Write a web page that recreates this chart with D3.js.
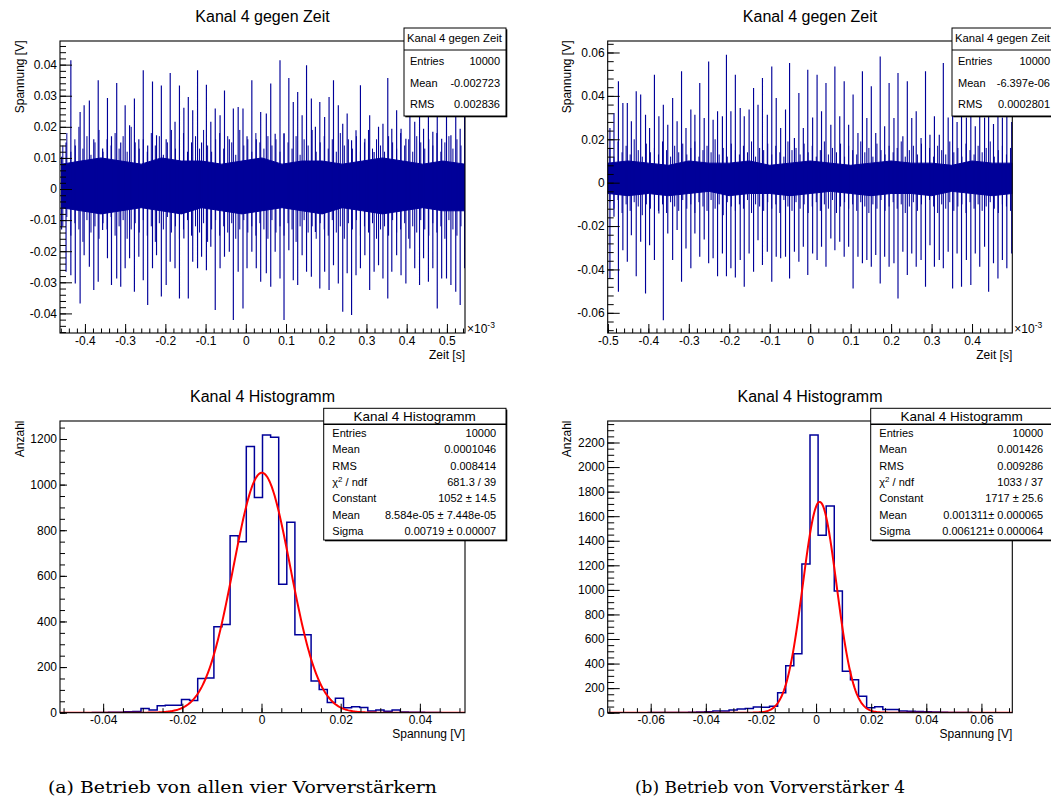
<!DOCTYPE html>
<html><head><meta charset="utf-8">
<script src="https://cdn.jsdelivr.net/npm/d3@7"></script>
<style>
body{margin:0;background:#fff}
svg{display:block}
</style>
</head><body>
<svg id="c" width="1051" height="811"></svg>
<script>
// ---------------- DATA ----------------
// Panel (a) top: time series, spike events (time in 1e-3 s, voltage in V)
const tsA_time = [-0.458,-0.447,-0.435,-0.424,-0.412,-0.402,-0.389,-0.378,-0.367,-0.356,-0.344,-0.334,-0.321,-0.311,-0.300,-0.289,-0.277,-0.266,-0.255,-0.244,-0.232,-0.222,-0.210,-0.198,-0.188,-0.176,-0.165,-0.154,-0.143,-0.132,-0.120,-0.110,-0.098,-0.087,-0.076,-0.064,-0.053,-0.041,-0.031,-0.019,-0.007,0.003,0.015,0.026,0.037,0.051,0.062,0.073,0.085,0.095,0.107,0.118,0.129,0.140,0.151,0.163,0.173,0.184,0.196,0.207,0.218,0.230,0.241,0.252,0.263,0.274,0.285,0.296,0.308,0.319,0.330,0.341,0.353,0.363,0.375,0.386,0.398,0.408,0.420,0.432,0.442,0.454,0.465,0.476,0.487,0.499,0.510,0.522,0.533,0.544];
const tsA_up = [0.0104,0.015,0.0414,0.014,0.0248,0.0269,0.0285,0.016,0.0350,0.013,0.0293,0.017,0.0341,0.015,0.0269,0.0205,0.0291,0.016,0.0382,0.014,0.0346,0.0173,0.0333,0.016,0.0373,0.0216,0.0333,0.0261,0.0296,0.0253,0.0382,0.015,0.0335,0.0216,0.0259,0.0237,0.0317,0.016,0.0259,0.0264,0.0259,0.017,0.0350,0.016,0.0248,0.0243,0.0339,0.0178,0.0414,0.0178,0.0357,0.0280,0.0312,0.0237,0.0398,0.0291,0.0200,0.0280,0.0232,0.0296,0.0350,0.0269,0.0210,0.0243,0.0157,0.0189,0.0334,0.0162,0.0237,0.0119,0.0200,0.0210,0.0357,0.0194,0.0253,0.0194,0.0162,0.030,0.0216,0.028,0.0194,0.026,0.0184,0.030,0.0162,0.0248,0.0173,0.030,0.0194,0.025];
const tsA_down = [-0.0130,-0.0266,-0.0277,-0.0304,-0.0368,-0.0213,-0.0250,-0.0325,-0.0298,-0.0132,-0.0223,-0.0309,-0.0288,-0.0314,-0.0255,-0.0223,-0.0330,-0.0218,-0.0293,-0.0373,-0.0255,-0.0213,-0.0346,-0.0309,-0.0234,-0.0255,-0.0352,-0.0159,-0.0352,-0.0234,-0.0255,-0.0218,-0.0261,-0.0186,-0.0389,-0.0255,-0.0218,-0.0202,-0.0421,-0.0266,-0.0384,-0.0255,-0.0202,-0.0255,-0.0298,-0.0271,-0.0314,-0.0202,-0.0288,-0.0421,-0.0197,-0.0293,-0.0309,-0.0213,-0.0266,-0.0282,-0.0138,-0.0320,-0.0266,-0.0325,-0.0245,-0.0304,-0.0395,-0.0271,-0.0405,-0.0277,-0.0255,-0.0213,-0.0325,-0.0266,-0.0245,-0.0288,-0.0352,-0.0266,-0.0213,-0.0277,-0.0304,-0.0191,-0.0255,-0.0309,-0.0223,-0.0298,-0.0255,-0.0384,-0.0288,-0.0288,-0.0309,-0.0330,-0.0373,-0.0255];
// dense noise of panel (a) top: smaller oscillations sampled every 0.01e-3 s
const tsA_midTime = [-0.455,-0.445,-0.435,-0.425,-0.415,-0.405,-0.395,-0.385,-0.375,-0.365,-0.355,-0.345,-0.335,-0.325,-0.315,-0.305,-0.295,-0.285,-0.275,-0.265,-0.255,-0.245,-0.235,-0.225,-0.215,-0.205,-0.195,-0.185,-0.175,-0.165,-0.155,-0.145,-0.135,-0.125,-0.115,-0.105,-0.095,-0.085,-0.075,-0.065,-0.055,-0.045,-0.035,-0.025,-0.015,-0.005,0.005,0.015,0.025,0.035,0.045,0.055,0.065,0.075,0.085,0.095,0.105,0.115,0.125,0.135,0.145,0.155,0.165,0.175,0.185,0.195,0.205,0.215,0.225,0.235,0.245,0.255,0.265,0.275,0.285,0.295,0.305,0.315,0.325,0.335,0.345,0.355,0.365,0.375,0.385,0.395,0.405,0.415,0.425,0.435,0.445,0.455,0.465,0.475,0.485,0.495,0.505,0.515,0.525,0.535];
const tsA_midHi = [0.014,0.018,0.012,0.016,0.020,0.013,0.017,0.011,0.015,0.019,0.012,0.016,0.014,0.018,0.013,0.017,0.012,0.020,0.015,0.013,0.016,0.012,0.018,0.014,0.017,0.011,0.015,0.019,0.013,0.016,0.018,0.012,0.015,0.017,0.013,0.019,0.014,0.012,0.016,0.018,0.013,0.017,0.015,0.011,0.019,0.014,0.016,0.012,0.018,0.015,0.013,0.017,0.014,0.016,0.012,0.018,0.015,0.013,0.017,0.011,0.016,0.014,0.019,0.012,0.015,0.017,0.013,0.016,0.012,0.018,0.014,0.016,0.013,0.017,0.012,0.015,0.019,0.013,0.016,0.014,0.012,0.017,0.015,0.013,0.018,0.014,0.016,0.012,0.017,0.015,0.013,0.016,0.014,0.018,0.012,0.015,0.017,0.013,0.016,0.014];
const tsA_midLo = [-0.012,-0.009,-0.015,-0.011,-0.013,-0.017,-0.010,-0.014,-0.012,-0.016,-0.011,-0.013,-0.009,-0.015,-0.012,-0.010,-0.016,-0.013,-0.011,-0.014,-0.010,-0.015,-0.012,-0.017,-0.011,-0.013,-0.009,-0.014,-0.012,-0.016,-0.013,-0.010,-0.015,-0.012,-0.014,-0.011,-0.017,-0.013,-0.010,-0.015,-0.012,-0.014,-0.011,-0.016,-0.013,-0.010,-0.014,-0.012,-0.015,-0.011,-0.013,-0.016,-0.010,-0.014,-0.012,-0.015,-0.011,-0.013,-0.017,-0.012,-0.010,-0.014,-0.012,-0.016,-0.011,-0.013,-0.015,-0.010,-0.014,-0.012,-0.016,-0.011,-0.013,-0.010,-0.015,-0.012,-0.014,-0.011,-0.016,-0.013,-0.012,-0.015,-0.010,-0.014,-0.013,-0.011,-0.016,-0.012,-0.014,-0.010,-0.013,-0.015,-0.011,-0.014,-0.012,-0.016,-0.010,-0.013,-0.015,-0.012];
// solid central band of panel (a) top
const tsA_coreTime = [-0.458,-0.41,-0.36,-0.31,-0.26,-0.21,-0.16,-0.11,-0.06,-0.01,0.04,0.09,0.14,0.19,0.24,0.29,0.34,0.39,0.44,0.49,0.545];
const tsA_coreHi = [0.008,0.009,0.010,0.009,0.008,0.010,0.009,0.009,0.008,0.009,0.010,0.008,0.009,0.009,0.008,0.009,0.010,0.009,0.008,0.009,0.008];
const tsA_coreLo = [-0.006,-0.007,-0.008,-0.007,-0.006,-0.007,-0.008,-0.006,-0.007,-0.008,-0.007,-0.006,-0.007,-0.008,-0.006,-0.007,-0.008,-0.007,-0.006,-0.007,-0.007];

// Panel (b) top
const tsB_time = [-0.495,-0.485,-0.474,-0.463,-0.452,-0.442,-0.430,-0.419,-0.407,-0.397,-0.385,-0.374,-0.363,-0.352,-0.340,-0.329,-0.318,-0.307,-0.295,-0.285,-0.273,-0.262,-0.251,-0.240,-0.229,-0.217,-0.207,-0.196,-0.185,-0.173,-0.163,-0.151,-0.140,-0.129,-0.118,-0.106,-0.095,-0.084,-0.073,-0.061,-0.051,-0.039,-0.028,-0.017,-0.006,0.006,0.017,0.028,0.039,0.051,0.061,0.073,0.084,0.095,0.106,0.118,0.129,0.140,0.151,0.162,0.173,0.184,0.195,0.207,0.217,0.229,0.240,0.251,0.262,0.274,0.285,0.296,0.307,0.319,0.329,0.341,0.352,0.363,0.374,0.386,0.397,0.408,0.419,0.431,0.441,0.453,0.464,0.475,0.486,0.498];
const tsB_up = [0.0252,0.0321,0.0467,0.0367,0.0367,0.0283,0.0421,0.0406,0.0313,0.0252,0.0498,0.0306,0.0359,0.0267,0.0390,0.0283,0.0513,0.0252,0.0337,0.0313,0.0459,0.0298,0.0559,0.0290,0.0329,0.0306,0.0590,0.0329,0.0498,0.0344,0.0306,0.0337,0.0436,0.0359,0.0482,0.0313,0.0536,0.0390,0.0252,0.0337,0.0552,0.0206,0.0413,0.0252,0.0521,0.030,0.0498,0.0329,0.0459,0.0267,0.0536,0.0306,0.0467,0.0267,0.0406,0.0229,0.0513,0.0298,0.0444,0.0229,0.0582,0.0260,0.0459,0.0298,0.0506,0.0214,0.0467,0.0298,0.0329,0.0206,0.0513,0.0221,0.0306,0.0221,0.0552,0.030,0.048,0.028,0.045,0.030,0.050,0.026,0.047,0.030,0.052,0.027,0.050,0.030,0.048,0.028];
const tsB_down = [-0.0442,-0.0157,-0.0503,-0.0311,-0.0365,-0.0242,-0.0431,-0.0272,-0.0511,-0.0288,-0.0357,-0.0142,-0.0634,-0.0234,-0.0357,-0.0218,-0.0457,-0.0303,-0.0395,-0.0234,-0.0342,-0.0262,-0.0372,-0.0349,-0.0431,-0.0326,-0.0431,-0.0395,-0.0437,-0.0357,-0.0480,-0.0326,-0.0411,-0.0265,-0.0380,-0.0318,-0.0457,-0.0342,-0.0349,-0.0342,-0.0442,-0.0318,-0.0365,-0.0295,-0.0426,-0.0326,-0.0357,-0.0295,-0.0388,-0.0257,-0.0311,-0.0272,-0.0342,-0.0295,-0.0488,-0.0342,-0.0372,-0.0357,-0.0388,-0.0334,-0.0465,-0.0342,-0.0388,-0.0372,-0.0534,-0.0318,-0.0426,-0.0326,-0.0388,-0.0357,-0.0480,-0.0288,-0.0388,-0.0357,-0.0395,-0.0318,-0.0488,-0.0326,-0.0480,-0.0357,-0.0472,-0.0326,-0.0388,-0.0295,-0.0503,-0.0372,-0.0442,-0.0357,-0.0395,-0.0326];
const tsB_midTime = [-0.495,-0.485,-0.475,-0.465,-0.455,-0.445,-0.435,-0.425,-0.415,-0.405,-0.395,-0.385,-0.375,-0.365,-0.355,-0.345,-0.335,-0.325,-0.315,-0.305,-0.295,-0.285,-0.275,-0.265,-0.255,-0.245,-0.235,-0.225,-0.215,-0.205,-0.195,-0.185,-0.175,-0.165,-0.155,-0.145,-0.135,-0.125,-0.115,-0.105,-0.095,-0.085,-0.075,-0.065,-0.055,-0.045,-0.035,-0.025,-0.015,-0.005,0.005,0.015,0.025,0.035,0.045,0.055,0.065,0.075,0.085,0.095,0.105,0.115,0.125,0.135,0.145,0.155,0.165,0.175,0.185,0.195,0.205,0.215,0.225,0.235,0.245,0.255,0.265,0.275,0.285,0.295,0.305,0.315,0.325,0.335,0.345,0.355,0.365,0.375,0.385,0.395,0.405,0.415,0.425,0.435,0.445,0.455,0.465,0.475,0.485,0.495];
const tsB_midHi = [0.016,0.012,0.019,0.014,0.017,0.013,0.020,0.015,0.012,0.018,0.014,0.016,0.013,0.019,0.015,0.012,0.017,0.014,0.018,0.013,0.016,0.019,0.012,0.015,0.017,0.014,0.020,0.013,0.016,0.012,0.018,0.015,0.013,0.017,0.014,0.019,0.012,0.016,0.015,0.018,0.013,0.017,0.014,0.012,0.019,0.015,0.016,0.013,0.018,0.014,0.017,0.012,0.015,0.019,0.013,0.016,0.014,0.018,0.012,0.017,0.015,0.013,0.019,0.014,0.016,0.012,0.018,0.015,0.013,0.017,0.014,0.016,0.019,0.012,0.015,0.017,0.013,0.018,0.014,0.016,0.012,0.017,0.015,0.013,0.019,0.014,0.016,0.012,0.018,0.015,0.013,0.017,0.014,0.016,0.019,0.012,0.015,0.017,0.013,0.016];
const tsB_midLo = [-0.009,-0.012,-0.008,-0.014,-0.010,-0.013,-0.009,-0.011,-0.015,-0.010,-0.012,-0.008,-0.013,-0.010,-0.014,-0.009,-0.011,-0.013,-0.008,-0.012,-0.010,-0.014,-0.009,-0.011,-0.013,-0.008,-0.012,-0.010,-0.015,-0.009,-0.011,-0.013,-0.010,-0.012,-0.008,-0.014,-0.010,-0.011,-0.013,-0.009,-0.012,-0.010,-0.014,-0.008,-0.011,-0.013,-0.009,-0.012,-0.010,-0.014,-0.011,-0.009,-0.013,-0.010,-0.012,-0.008,-0.014,-0.011,-0.009,-0.012,-0.010,-0.013,-0.009,-0.011,-0.014,-0.010,-0.012,-0.008,-0.013,-0.011,-0.009,-0.012,-0.010,-0.014,-0.011,-0.009,-0.013,-0.010,-0.012,-0.008,-0.011,-0.014,-0.010,-0.012,-0.009,-0.013,-0.011,-0.010,-0.014,-0.009,-0.012,-0.010,-0.013,-0.011,-0.009,-0.012,-0.014,-0.010,-0.011,-0.013];
const tsB_coreTime = [-0.5,-0.45,-0.4,-0.35,-0.3,-0.25,-0.2,-0.15,-0.1,-0.05,0,0.05,0.1,0.15,0.2,0.25,0.3,0.35,0.4,0.45,0.4995];
const tsB_coreHi = [0.009,0.010,0.009,0.008,0.010,0.009,0.009,0.010,0.008,0.009,0.010,0.009,0.008,0.009,0.010,0.009,0.009,0.008,0.010,0.009,0.009];
const tsB_coreLo = [-0.005,-0.006,-0.005,-0.006,-0.005,-0.004,-0.006,-0.005,-0.005,-0.006,-0.005,-0.004,-0.005,-0.006,-0.005,-0.005,-0.006,-0.004,-0.005,-0.006,-0.005];

// Histograms: 50 bins each over [lo, hi]
const histA_range = [-0.0509, 0.0514];
const histA_counts = [0,0,0,0,1, 1,2,2,4,5, 18,12,30,33,33, 58,53,150,152,377, 387,776,750,1167,943, 1218,1208,563,835,342, 342,139,102,45,63, 22,26,23,7,12, 6,12,3,2,2, 1,1,0,0,0];
const histB_range = [-0.0756, 0.0712];
const histB_counts = [0,0,0,0,0, 1,1,1,2,2, 3,5,8,14,14, 22,30,35,46,45, 52,163,383,481,1211, 2262,1445,1684,991,337, 269,133,41,49,27, 27,14,11,10,8, 5,3,2,1,1, 0,0,0,0,0];
// Gaussian fit parameters: constant, mean, sigma
const fitA = [1052, 8.584e-05, 0.00719];
const fitB = [1717, 0.001311, 0.006121];

// Tick labels
const tsA_xTicks = [-0.4,-0.3,-0.2,-0.1,0,0.1,0.2,0.3,0.4,0.5];
const tsA_yTicks = [-0.04,-0.03,-0.02,-0.01,0,0.01,0.02,0.03,0.04];
const tsB_xTicks = [-0.5,-0.4,-0.3,-0.2,-0.1,0,0.1,0.2,0.3,0.4];
const tsB_yTicks = [-0.06,-0.04,-0.02,0,0.02,0.04,0.06];
const hA_xTicks = [-0.04,-0.02,0,0.02,0.04];
const hA_yTicks = [0,200,400,600,800,1000,1200];
const hB_xTicks = [-0.06,-0.04,-0.02,0,0.02,0.04,0.06];
const hB_yTicks = [0,200,400,600,800,1000,1200,1400,1600,1800,2000,2200];

// Texts
const titleTS = "Kanal 4 gegen Zeit";
const titleH = "Kanal 4 Histogramm";
const statsTSA = [["Entries","10000"],["Mean","-0.002723"],["RMS","0.002836"]];
const statsTSB = [["Entries","10000"],["Mean","-6.397e-06"],["RMS","0.0002801"]];
const statsHA = [["Entries","10000"],["Mean","0.0001046"],["RMS","0.008414"],["CHI","681.3 / 39"],["Constant","1052 ± 14.5"],["Mean","8.584e-05 ± 7.448e-05"],["Sigma","0.00719 ± 0.00007"]];
const statsHB = [["Entries","10000"],["Mean","0.001426"],["RMS","0.009286"],["CHI","1033 / 37"],["Constant","1717 ± 25.6"],["Mean","0.001311± 0.000065"],["Sigma","0.006121± 0.000064"]];
const captions = ["(a) Betrieb von allen vier Vorverstärkern", "(b) Betrieb von Vorverstärker 4"];

// ---------------- DRAWING ----------------
const FONT = '"Liberation Sans", Arial, Helvetica, sans-serif';
const BLUE = "#000099";
const svg = d3.select("#c");
let clipId = 0;

function fmt(v){ return String(+(+v).toFixed(6)); }

function minorVals(domain, step){
  const lo = Math.min(domain[0],domain[1]), hi = Math.max(domain[0],domain[1]);
  const out = [];
  for (let k = Math.ceil(lo/step - 1e-9); k*step <= hi + 1e-12; k++) out.push(+(k*step).toFixed(8));
  return out;
}

function axes(g, x, y, f, o){
  const mx = g.append("g").attr("transform",`translate(0,${f.y1})`)
    .call(d3.axisBottom(x).tickValues(minorVals(x.domain(), o.xMinor)).tickFormat("").tickSizeInner(-o.xMinLen).tickSizeOuter(0));
  mx.select(".domain").remove();
  const gx = g.append("g").attr("transform",`translate(0,${f.y1})`)
    .call(d3.axisBottom(x).tickValues(o.xTicks).tickFormat(fmt).tickSizeInner(-o.xMajLen).tickSizeOuter(0).tickPadding(3));
  gx.select(".domain").remove();
  gx.attr("font-family",FONT).attr("font-size",12);
  gx.selectAll("text").attr("fill","#000");
  const my = g.append("g").attr("transform",`translate(${f.x0},0)`)
    .call(d3.axisLeft(y).tickValues(minorVals(y.domain(), o.yMinor)).tickFormat("").tickSizeInner(-o.yMinLen).tickSizeOuter(0));
  my.select(".domain").remove();
  const gy = g.append("g").attr("transform",`translate(${f.x0},0)`)
    .call(d3.axisLeft(y).tickValues(o.yTicks).tickFormat(fmt).tickSizeInner(-o.yMajLen).tickSizeOuter(0).tickPadding(3));
  gy.select(".domain").remove();
  gy.attr("font-family",FONT).attr("font-size",12);
  gy.selectAll("text").attr("fill","#000");
  g.selectAll(".tick line").attr("stroke","#000").attr("stroke-width",1);
}

function frame(g, f){
  g.append("rect").attr("x",f.x0).attr("y",f.y0).attr("width",f.x1-f.x0).attr("height",f.y1-f.y0)
    .attr("fill","none").attr("stroke","#000").attr("stroke-width",1.1);
}

function clip(g, f){
  const id = "clip"+(clipId++);
  g.append("clipPath").attr("id",id).append("rect").attr("x",f.x0).attr("y",f.y0).attr("width",f.x1-f.x0).attr("height",f.y1-f.y0);
  return `url(#${id})`;
}

function titleText(g, f, txt, base){
  g.append("text").attr("x",(f.x0+f.x1)/2).attr("y",base).attr("text-anchor","middle")
    .attr("font-family",FONT).attr("font-size",16).attr("fill","#000").text(txt);
}
function yTitle(g, f, txt){
  g.append("text").attr("transform",`translate(${f.x0-36.5},${f.y0-0.5}) rotate(-90)`).attr("text-anchor","end")
    .attr("font-family",FONT).attr("font-size",12).attr("fill","#000").text(txt);
}
function xTitle(g, f, txt){
  g.append("text").attr("x",f.x1).attr("y",f.y1+25.5).attr("text-anchor","end")
    .attr("font-family",FONT).attr("font-size",12).attr("fill","#000").text(txt);
}

function vsegs(x, y, ts, his, los){
  return ts.map((t,i)=>`M${x(t).toFixed(2)},${y(his[i]).toFixed(2)}V${y(los[i]).toFixed(2)}`).join("");
}

function drawTS(cfg){
  const f = cfg.frame, g = svg.append("g");
  const x = d3.scaleLinear().domain(cfg.xDomain).range([f.x0,f.x1]);
  const y = d3.scaleLinear().domain(cfg.yDomain).range([f.y1,f.y0]);
  const cp = clip(g, f);
  const dg = g.append("g").attr("clip-path",cp);
  const core = cfg.coreTime.map((t,i)=>({t, hi:cfg.coreHi[i], lo:cfg.coreLo[i]}));
  dg.append("path").datum(core)
    .attr("d", d3.area().x(d=>x(d.t)).y0(d=>y(d.lo)).y1(d=>y(d.hi)))
    .attr("fill",BLUE).attr("stroke",BLUE).attr("stroke-width",1);
  dg.append("path").attr("d", vsegs(x, y, cfg.midTime, cfg.midHi, cfg.midLo))
    .attr("fill","none").attr("stroke",BLUE).attr("stroke-width",1.0);
  dg.append("path").attr("d", vsegs(x, y, cfg.time, cfg.up, cfg.down))
    .attr("fill","none").attr("stroke",BLUE).attr("stroke-width",1.15);
  axes(g, x, y, f, {xTicks:cfg.xTicks, yTicks:cfg.yTicks, xMinor:0.02, yMinor:cfg.yMinor, xMajLen:9, xMinLen:4.5, yMajLen:12, yMinLen:6});
  frame(g, f);
  titleText(g, f, titleTS, 21.5);
  yTitle(g, f, "Spannung [V]");
  xTitle(g, f, "Zeit [s]");
  const t = g.append("text").attr("x",f.x1+2).attr("y",f.y1).attr("font-family",FONT).attr("font-size",12).attr("fill","#000");
  t.append("tspan").text("×10");
  t.append("tspan").attr("font-size",8.5).attr("dy",-5).text("-3");
  const b = cfg.box;
  g.append("rect").attr("x",b.x+1.3).attr("y",b.y+1.3).attr("width",b.w).attr("height",b.h).attr("fill","#000");
  g.append("rect").attr("x",b.x).attr("y",b.y).attr("width",b.w).attr("height",b.h).attr("fill","#fff").attr("stroke","#000").attr("stroke-width",1);
  g.append("line").attr("x1",b.x).attr("x2",b.x+b.w).attr("y1",b.y+22).attr("y2",b.y+22).attr("stroke","#000").attr("stroke-width",1);
  g.append("text").attr("x",b.x+3).attr("y",b.y+13.7).attr("font-family",FONT).attr("font-size",11.3).attr("fill","#000").text(titleTS);
  cfg.stats.forEach((r,i)=>{
    const yy = b.y + 37 + i*21.7;
    g.append("text").attr("x",b.x+6).attr("y",yy).attr("font-family",FONT).attr("font-size",11).attr("fill","#000").text(r[0]);
    g.append("text").attr("x",b.x+b.vx).attr("y",yy).attr("text-anchor","end").attr("font-family",FONT).attr("font-size",11).attr("fill","#000").text(r[1]);
  });
}

function drawHist(cfg){
  const f = cfg.frame, g = svg.append("g");
  const x = d3.scaleLinear().domain(cfg.range).range([f.x0,f.x1]);
  const y = d3.scaleLinear().domain([0, d3.max(cfg.counts)*1.05]).range([f.y1,f.y0]);
  const cp = clip(g, f);
  const dg = g.append("g").attr("clip-path",cp);
  const n = cfg.counts.length, bw = (cfg.range[1]-cfg.range[0])/n;
  const pts = [];
  cfg.counts.forEach((c,k)=>{ pts.push([cfg.range[0]+k*bw, c]); pts.push([cfg.range[0]+(k+1)*bw, c]); });
  dg.append("path").datum(pts).attr("d", d3.line().x(d=>x(d[0])).y(d=>y(d[1])))
    .attr("fill","none").attr("stroke",BLUE).attr("stroke-width",1.5);
  const [C,m,s] = cfg.fit;
  const xs = d3.range(0, 401).map(i => cfg.range[0] + i*(cfg.range[1]-cfg.range[0])/400);
  dg.append("path").datum(xs).attr("d", d3.line().x(v=>x(v)).y(v=>y(C*Math.exp(-0.5*((v-m)/s)**2))))
    .attr("fill","none").attr("stroke","#ff0000").attr("stroke-width",2);
  axes(g, x, y, f, {xTicks:cfg.xTicks, yTicks:cfg.yTicks, xMinor:0.005, yMinor:50, xMajLen:9, xMinLen:4.5, yMajLen:cfg.yMaj, yMinLen:cfg.yMin});
  frame(g, f);
  titleText(g, f, titleH, 401.7);
  yTitle(g, f, "Anzahl");
  xTitle(g, f, "Spannung [V]");
  const b = cfg.box;
  g.append("rect").attr("x",b.x+1.3).attr("y",b.y+1.3).attr("width",b.w).attr("height",b.h).attr("fill","#000");
  g.append("rect").attr("x",b.x).attr("y",b.y).attr("width",b.w).attr("height",b.h).attr("fill","#fff").attr("stroke","#000").attr("stroke-width",1);
  g.append("line").attr("x1",b.x).attr("x2",b.x+b.w).attr("y1",b.y+16).attr("y2",b.y+16).attr("stroke","#000").attr("stroke-width",1.5);
  g.append("text").attr("x",b.x+91).attr("y",b.y+12.4).attr("text-anchor","middle").attr("font-family",FONT).attr("font-size",13.5).attr("fill","#000").text(titleH);
  cfg.stats.forEach((r,i)=>{
    const yy = b.y + 28.4 + i*16.4;
    const lt = g.append("text").attr("x",b.x+8.6).attr("y",yy).attr("font-family",FONT).attr("font-size",11).attr("fill","#000");
    if (r[0]==="CHI"){
      lt.append("tspan").text("χ");
      lt.append("tspan").attr("font-size",8).attr("dy",-4).text("2");
      lt.append("tspan").attr("dy",4).text(" / ndf");
    } else lt.text(r[0]);
    g.append("text").attr("x",b.x+172.5).attr("y",yy).attr("text-anchor","end").attr("font-family",FONT).attr("font-size",11).attr("fill","#000").text(r[1]);
  });
}

drawTS({frame:{x0:60,x1:465,y0:41,y1:333}, xDomain:[-0.462,0.545], yDomain:[-0.0463,0.0476],
  time:tsA_time, up:tsA_up, down:tsA_down, midTime:tsA_midTime, midHi:tsA_midHi, midLo:tsA_midLo,
  coreTime:tsA_coreTime, coreHi:tsA_coreHi, coreLo:tsA_coreLo,
  xTicks:tsA_xTicks, yTicks:tsA_yTicks, yMinor:0.002, box:{x:404,y:28,w:102,h:88,vx:96}, stats:statsTSA});
drawTS({frame:{x0:607.7,x1:1012.3,y0:41,y1:333}, xDomain:[-0.5005,0.4995], yDomain:[-0.0693,0.0653],
  time:tsB_time, up:tsB_up, down:tsB_down, midTime:tsB_midTime, midHi:tsB_midHi, midLo:tsB_midLo,
  coreTime:tsB_coreTime, coreHi:tsB_coreHi, coreLo:tsB_coreLo,
  xTicks:tsB_xTicks, yTicks:tsB_yTicks, yMinor:0.004, box:{x:952,y:28,w:106,h:88,vx:98}, stats:statsTSB});
drawHist({frame:{x0:60,x1:465,y0:421,y1:712.7}, range:histA_range, counts:histA_counts, fit:fitA,
  xTicks:hA_xTicks, yTicks:hA_yTicks, yMaj:7, yMin:5, box:{x:323.7,y:408.3,w:182.3,h:131.7}, stats:statsHA});
drawHist({frame:{x0:607.7,x1:1012.3,y0:421,y1:712.7}, range:histB_range, counts:histB_counts, fit:fitB,
  xTicks:hB_xTicks, yTicks:hB_yTicks, yMaj:12, yMin:6.5, box:{x:870.7,y:408.3,w:183,h:131.7}, stats:statsHB});

svg.append("text").attr("x",48).attr("y",793).attr("font-family",'"DejaVu Serif", serif').attr("font-size",16)
  .attr("textLength",389).attr("lengthAdjust","spacingAndGlyphs").attr("fill","#000").text(captions[0]);
svg.append("text").attr("x",635).attr("y",793).attr("font-family",'"DejaVu Serif", serif').attr("font-size",16)
  .attr("textLength",270).attr("lengthAdjust","spacingAndGlyphs").attr("fill","#000").text(captions[1]);
</script>
</body></html>
